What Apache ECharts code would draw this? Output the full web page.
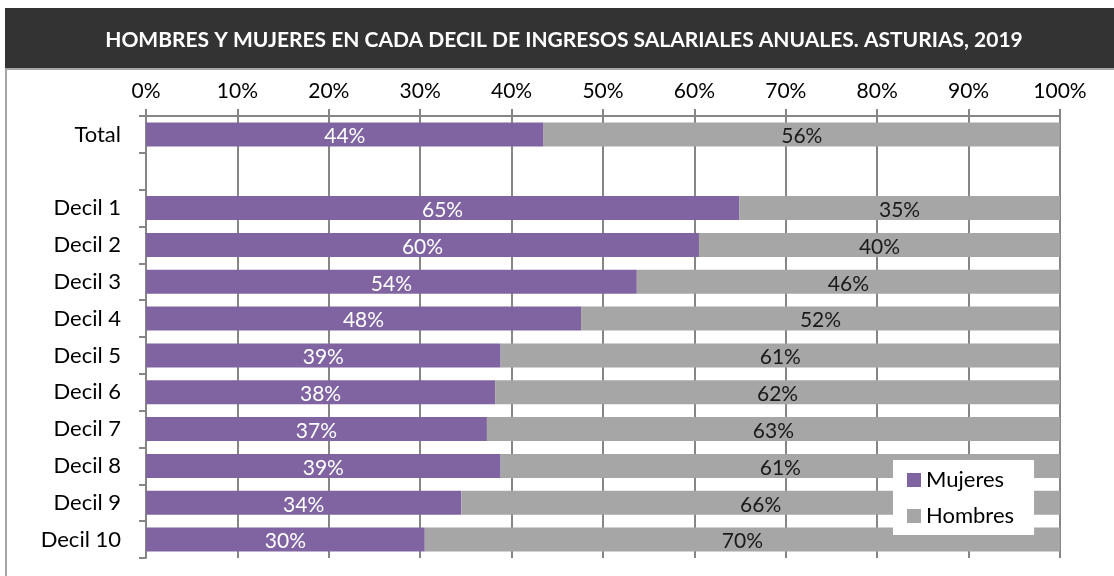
<!DOCTYPE html>
<html>
<head>
<meta charset="utf-8">
<script src="https://cdn.jsdelivr.net/npm/echarts@6/dist/echarts.min.js"></script>
<style>
  html, body { margin: 0; padding: 0; background: #fff; }
  #chart { width: 1114px; height: 576px; }
</style>
</head>
<body>
<div id="chart"></div>
<script>
// categorias (la fila vacia separa el total de los deciles)
const categories = ['Total', '', 'Decil 1', 'Decil 2', 'Decil 3', 'Decil 4', 'Decil 5',
    'Decil 6', 'Decil 7', 'Decil 8', 'Decil 9', 'Decil 10']

// porcentajes estimados del grafico
const mujeres = [43.5, null, 64.9, 60.5, 53.7, 47.6, 38.8, 38.2, 37.3, 38.8, 34.5, 30.5]
const hombres = [56.5, null, 35.1, 39.5, 46.3, 52.4, 61.2, 61.8, 62.7, 61.2, 65.5, 69.5]

// etiquetas tal como aparecen
const mujeresLabels = ['44%', '', '65%', '60%', '54%', '48%', '39%', '38%', '37%', '39%', '34%', '30%']
const hombresLabels = ['56%', '', '35%', '40%', '46%', '52%', '61%', '62%', '63%', '61%', '66%', '70%']

const xTicks = [0, 10, 20, 30, 40, 50, 60, 70, 80, 90, 100]

const font = 'Lato, "Open Sans", sans-serif'

let chart = echarts.init(document.getElementById('chart'))

option = {
    animation: false,
    textStyle: { fontFamily: font },
    graphic: [
        {
            type: 'rect',
            shape: { x: 5, y: 8, width: 1109, height: 60 },
            style: { fill: '#333333' }
        },
        {
            type: 'rect',
            shape: { x: 6, y: 69, width: 1120, height: 520 },
            style: { fill: 'none', stroke: '#a6a6a6', lineWidth: 2 }
        },
        {
            type: 'text',
            x: 564, y: 40,
            style: {
                text: 'HOMBRES Y MUJERES EN CADA DECIL DE INGRESOS SALARIALES ANUALES. ASTURIAS, 2019',
                fill: '#ffffff',
                font: 'bold 21px ' + font,
                align: 'center',
                verticalAlign: 'middle'
            }
        }
    ],
    grid: { left: 146, right: 54, top: 116, bottom: 18 },
    legend: {
        orient: 'vertical',
        left: 893,
        top: 460,
        backgroundColor: '#ffffff',
        padding: [9, 20, 8, 14],
        itemWidth: 14,
        itemHeight: 14,
        itemGap: 14,
        icon: 'rect',
        textStyle: { fontSize: 22, color: '#000', fontFamily: font },
        data: ['Mujeres', 'Hombres']
    },
    xAxis: {
        type: 'value',
        position: 'top',
        min: 0,
        max: 100,
        interval: 10,
        axisLine: { show: true, lineStyle: { color: '#868686', width: 2 } },
        axisTick: { show: true, length: 7, lineStyle: { color: '#868686', width: 2 } },
        splitLine: { show: true, lineStyle: { color: '#868686', width: 2 } },
        axisLabel: {
            color: '#000',
            fontSize: 21,
            margin: 14,
            formatter: v => xTicks.includes(v) ? v + '%' : ''
        }
    },
    yAxis: {
        type: 'category',
        inverse: true,
        data: categories,
        axisLine: { show: true, lineStyle: { color: '#868686', width: 2 } },
        axisTick: { show: true, length: 7, lineStyle: { color: '#868686', width: 2 } },
        axisLabel: { color: '#000', fontSize: 22, margin: 25 }
    },
    series: [
        {
            name: 'Mujeres',
            type: 'bar',
            stack: 'total',
            barCategoryGap: '35%',
            data: mujeres,
            itemStyle: { color: '#8064a2' },
            label: {
                show: true,
                position: 'inside',
                color: '#ffffff',
                fontSize: 21,
                offset: [0, 2],
                formatter: p => mujeresLabels[p.dataIndex]
            }
        },
        {
            name: 'Hombres',
            type: 'bar',
            stack: 'total',
            barCategoryGap: '35%',
            data: hombres,
            itemStyle: { color: '#a6a6a6' },
            label: {
                show: true,
                position: 'inside',
                color: '#1a1a1a',
                fontSize: 21,
                offset: [0, 2],
                formatter: p => hombresLabels[p.dataIndex]
            }
        }
    ]
}

chart.setOption(option)
</script>
</body>
</html>
